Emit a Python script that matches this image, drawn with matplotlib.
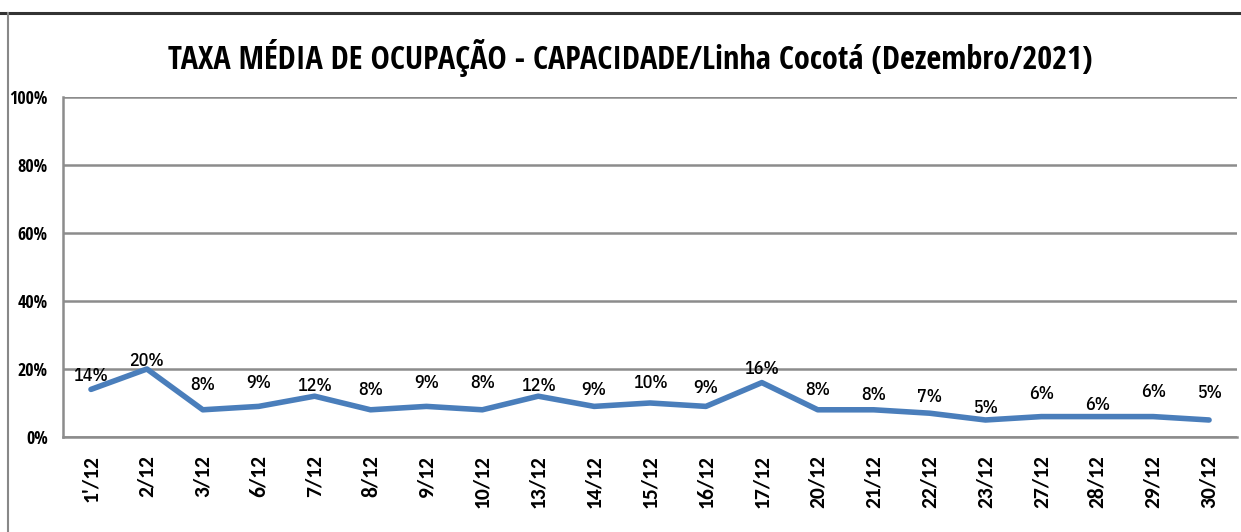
import matplotlib.pyplot as plt
from matplotlib.lines import Line2D

days = ["1'/12", '2/12', '3/12', '6/12', '7/12', '8/12', '9/12', '10/12', '13/12',
        '14/12', '15/12', '16/12', '17/12', '20/12', '21/12', '22/12', '23/12',
        '27/12', '28/12', '29/12', '30/12']
taxa = [14, 20, 8, 9, 12, 8, 9, 8, 12, 9, 10, 9, 16, 8, 8, 7, 5, 6, 6, 6, 5]
y_ticks = [0, 20, 40, 60, 80, 100]

# distância (pt) de cada rótulo acima do ponto, como no original
label_dy = [6, 2, 14, 13, 4, 11, 13, 16, 4, 8, 11, 10, 6, 11, 7, 8, 5, 13, 5, 14, 16]

base = ['Carlito', 'DejaVu Sans']
cond = ['Open Sans Condensed', 'Carlito', 'DejaVu Sans']
plex = ['IBM Plex Sans Condensed', 'Carlito', 'DejaVu Sans']
plt.rcParams['font.family'] = base

fig = plt.figure(figsize=(12.41, 5.32), dpi=100)
ax = fig.add_axes([0.0508, 0.1786, 0.946, 0.639])

x = list(range(len(days)))
ax.plot(x, taxa, color='#4a7ebb', linewidth=4, solid_capstyle='round')
for i, v in enumerate(taxa):
    ax.annotate(f'{v}%', (i, v), xytext=(0, label_dy[i]), textcoords='offset points',
                ha='center', va='baseline', fontsize=13, fontweight=500, family=plex)

ax.set_xlim(-0.5, len(days) - 0.5)
ax.set_ylim(0, 100)
ax.set_yticks(y_ticks)
ax.set_yticklabels([f'{t}%' for t in y_ticks], fontsize=13, fontweight='bold', family=cond)
ax.set_xticks(x)
ax.set_xticklabels(days, rotation=90, fontsize=15.5, fontweight='bold')
ax.tick_params(length=0)
ax.tick_params(axis='x', pad=13)
ax.tick_params(axis='y', pad=11)
ax.grid(axis='y', color='#8c8c8c', linewidth=1.8)
ax.set_axisbelow(True)
for s in ['top', 'right']:
    ax.spines[s].set_visible(False)
for s in ['left', 'bottom']:
    ax.spines[s].set_color('#8c8c8c')
    ax.spines[s].set_linewidth(1.8)

fig.text(0.5075, 1 - 69 / 532, 'TAXA MÉDIA DE OCUPAÇÃO - CAPACIDADE/Linha Cocotá (Dezembro/2021)',
         ha='center', va='baseline', fontsize=23.3, fontweight='bold', family=cond)

# moldura do gráfico
fig.add_artist(Line2D([0, 1], [1 - 13 / 532, 1 - 13 / 532], color='#333333', linewidth=2.2))
fig.add_artist(Line2D([8 / 1241, 8 / 1241], [0, 1 - 13 / 532], color='#888888', linewidth=1.5))

fig.savefig('out.png', dpi=100)
